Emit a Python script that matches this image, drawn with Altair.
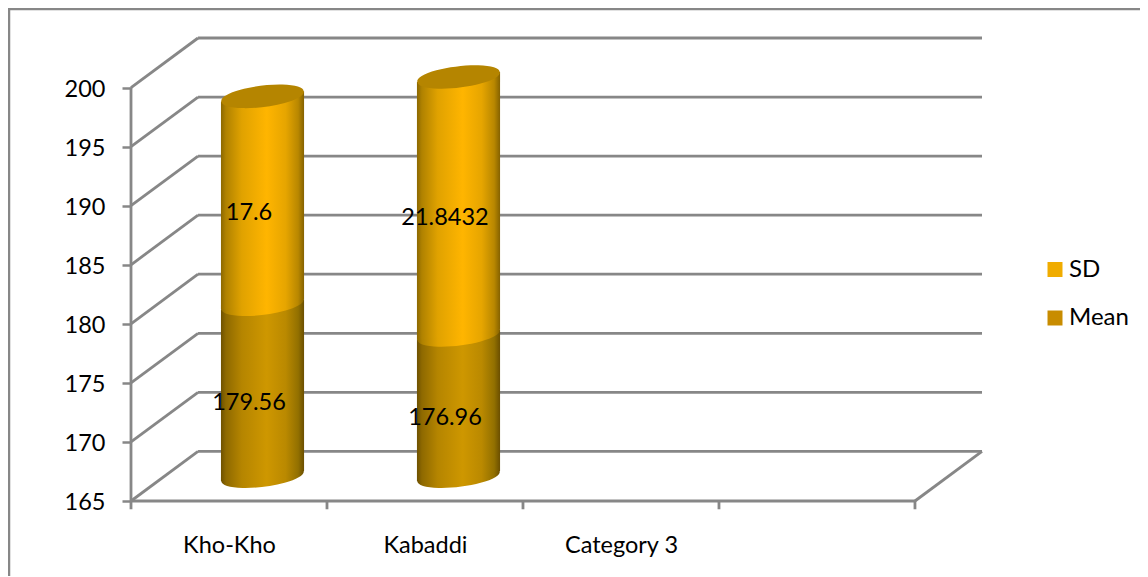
import altair as alt
import pandas as pd

categories = ["Kho-Kho", "Kabaddi", "Category 3"]
means = [179.56, 176.96]
sds = [17.6, 21.8432]
sd_labels = ["17.6", "21.8432"]
mean_labels = ["179.56", "176.96"]
y_ticks = [165, 170, 175, 180, 185, 190, 195, 200]
x_ticks = [0, 1, 2, 3, 4]
series_names = ["SD", "Mean"]
series_colors = ["#F0AC00", "#C88C00"]

AXIS = 165
DEPTH_X = 0.342      # slant of the 3D box, in category units
DEPTH_Y = 4.2        # slant of the 3D box, in axis units
HALF_W = 0.212
TILT = 0.43          # tilt of the cylinder ellipses, in axis units
LABEL_LIFT = 1.05
GRID = "#878787"
FONT = "Lato"
FS = 23.5

x_scale = alt.Scale(domain=[0, 4 + DEPTH_X], nice=False, zero=False)
y_scale = alt.Scale(domain=[AXIS, 200 + DEPTH_Y], nice=False, zero=False)

x_axis = alt.Axis(
    title=None,
    values=[i + 0.5 for i in range(len(categories))],
    labelExpr="datum.value < 1 ? '%s' : datum.value < 2 ? '%s' : '%s'" % tuple(categories),
    ticks=False, domain=False, grid=False, labelFont=FONT, labelFontSize=FS,
    labelColor="#000000", labelPadding=32, labelFlush=False, labelOverlap=False)
y_axis = alt.Axis(
    title=None,
    values=y_ticks, domain=False, grid=False, tickSize=9, tickWidth=2.5, tickColor=GRID,
    labelFont=FONT, labelFontSize=FS, labelColor="#000000", labelPadding=17, labelOffset=1.5)

slants = pd.DataFrame({"x": 0.0, "x2": DEPTH_X, "y": y_ticks, "y2": [v + DEPTH_Y for v in y_ticks]})
backs = pd.DataFrame({"x": DEPTH_X, "x2": 4 + DEPTH_X, "y": [v + DEPTH_Y for v in y_ticks]})
floor_side = pd.DataFrame({"x": [4.0], "x2": [4 + DEPTH_X], "y": [AXIS], "y2": [AXIS + DEPTH_Y]})
front = pd.DataFrame({"x": [0.0], "x2": [4.0], "y": [AXIS]})
y_line = pd.DataFrame({"x": [0.0], "y": [AXIS], "y2": [200]})
ticks_df = pd.DataFrame({"x": x_ticks, "y": AXIS, "y2": AXIS - 0.7})
one = pd.DataFrame({"k": [0]})

rows, mean_side, sd_side = [], [], []
for i, (m, s) in enumerate(zip(means, sds)):
    c = i + 0.5 + DEPTH_X / 2
    base_v, mid_v, top_v = AXIS + DEPTH_Y / 2, m + DEPTH_Y / 2, m + s + DEPTH_Y / 2
    rows.append(dict(c=c, base=base_v, mid=mid_v, top=top_v))
    for sign in (-1, 1):
        mean_side.append(dict(c=i, x=c + sign * HALF_W, y=base_v + sign * TILT, y2=mid_v + sign * TILT))
        sd_side.append(dict(c=i, x=c + sign * HALF_W, y=mid_v + sign * TILT, y2=top_v + sign * TILT))
cyl = pd.DataFrame(rows)
mean_body = pd.DataFrame(mean_side)
sd_body = pd.DataFrame(sd_side)

lab = []
for i, (m, s) in enumerate(zip(means, sds)):
    lab.append(dict(x=i + 0.602, y=(AXIS + m) / 2 + LABEL_LIFT, t=mean_labels[i]))
    lab.append(dict(x=i + 0.602, y=m + s / 2 + LABEL_LIFT, t=sd_labels[i]))
labs = pd.DataFrame(lab)

X = lambda f="x": alt.X(f"{f}:Q", scale=x_scale, axis=x_axis)
Y = lambda f="y": alt.Y(f"{f}:Q", scale=y_scale, axis=y_axis, stack=None)


def gradient(stops):
    return alt.Gradient(
        gradient="linear", x1=0, x2=1, y1=0, y2=0,
        stops=[alt.GradientStop(offset=o, color=c) for o, c in stops],
    )


sd_grad = gradient([(0, "#8C6800"), (0.06, "#B08200"), (0.25, "#E0A200"), (0.55, "#FFB500"),
                    (0.78, "#E6A500"), (0.93, "#B88700"), (1, "#856200")])
mean_grad = gradient([(0, "#6E5100"), (0.06, "#8E6900"), (0.25, "#B58500"), (0.55, "#CE9700"),
                      (0.78, "#BA8900"), (0.93, "#927000"), (1, "#6B4F00")])

ELLIPSE = "M-0.992,0.122 A1,0.25 -7 1 0 0.992,-0.122 A1,0.25 -7 1 0 -0.992,0.122 Z"
ELL_SIZE = 83 ** 2


def ell(field, fill):
    return alt.Chart(cyl).mark_point(
        shape=ELLIPSE, size=ELL_SIZE, filled=True, fill=fill, opacity=1, strokeWidth=0
    ).encode(x=X("c"), y=Y(field))


def body(df, fill):
    return alt.Chart(df).mark_area(fill=fill, opacity=1, interpolate="linear").encode(
        x=X(), y=Y(), y2="y2:Q", detail="c:N")


frame_l = alt.Chart(one).mark_rule(color=GRID, strokeWidth=2.5).encode(
    x=alt.value(-122), y=alt.value(-30), y2=alt.value(539))
frame_t = alt.Chart(one).mark_rule(color=GRID, strokeWidth=2.5).encode(
    y=alt.value(-29), x=alt.value(-123), x2=alt.value(1009))

rule = dict(color=GRID, strokeWidth=2.8)
grid_slant = alt.Chart(slants).mark_rule(**rule).encode(x=X(), x2="x2:Q", y=Y(), y2="y2:Q")
grid_back = alt.Chart(backs).mark_rule(**rule).encode(x=X(), x2="x2:Q", y=Y())
side = alt.Chart(floor_side).mark_rule(**rule).encode(x=X(), x2="x2:Q", y=Y(), y2="y2:Q")
front_l = alt.Chart(front).mark_rule(**rule).encode(x=X(), x2="x2:Q", y=Y())
y_l = alt.Chart(y_line).mark_rule(**rule).encode(x=X(), y=Y(), y2="y2:Q")
ticks = alt.Chart(ticks_df).mark_rule(**rule).encode(x=X(), y=Y(), y2="y2:Q")

text = alt.Chart(labs).mark_text(font=FONT, fontSize=FS, color="#000000").encode(
    x=X(), y=Y(), text="t:N")

legend_df = pd.DataFrame({"s": series_names, "x": 0.0, "y": AXIS})
legend = alt.Chart(legend_df).mark_square(size=0, opacity=1).encode(
    x=X(), y=Y(),
    color=alt.Color("s:N", scale=alt.Scale(domain=series_names, range=series_colors), legend=alt.Legend(
        title=None, orient="none", legendX=912, legendY=219.5, symbolType="square", symbolSize=225,
        symbolOpacity=1, symbolStrokeWidth=0, labelFont=FONT, labelFontSize=24, labelColor="#000000",
        rowPadding=24.5, labelOffset=2, padding=0)),
)

chart = alt.layer(
    frame_l, frame_t, grid_slant, grid_back, side, front_l, y_l, ticks,
    ell("base", mean_grad), body(mean_body, mean_grad), ell("mid", sd_grad), body(sd_body, sd_grad),
    ell("top", "#B58500"), text, legend,
).properties(
    width=851, height=463,
    padding={"left": 123, "top": 30, "right": 158, "bottom": 75},
    autosize=alt.AutoSizeParams(type="none"),
).configure_view(stroke=None)

chart.save("out.html", embed_options={"renderer": "svg", "actions": False})
